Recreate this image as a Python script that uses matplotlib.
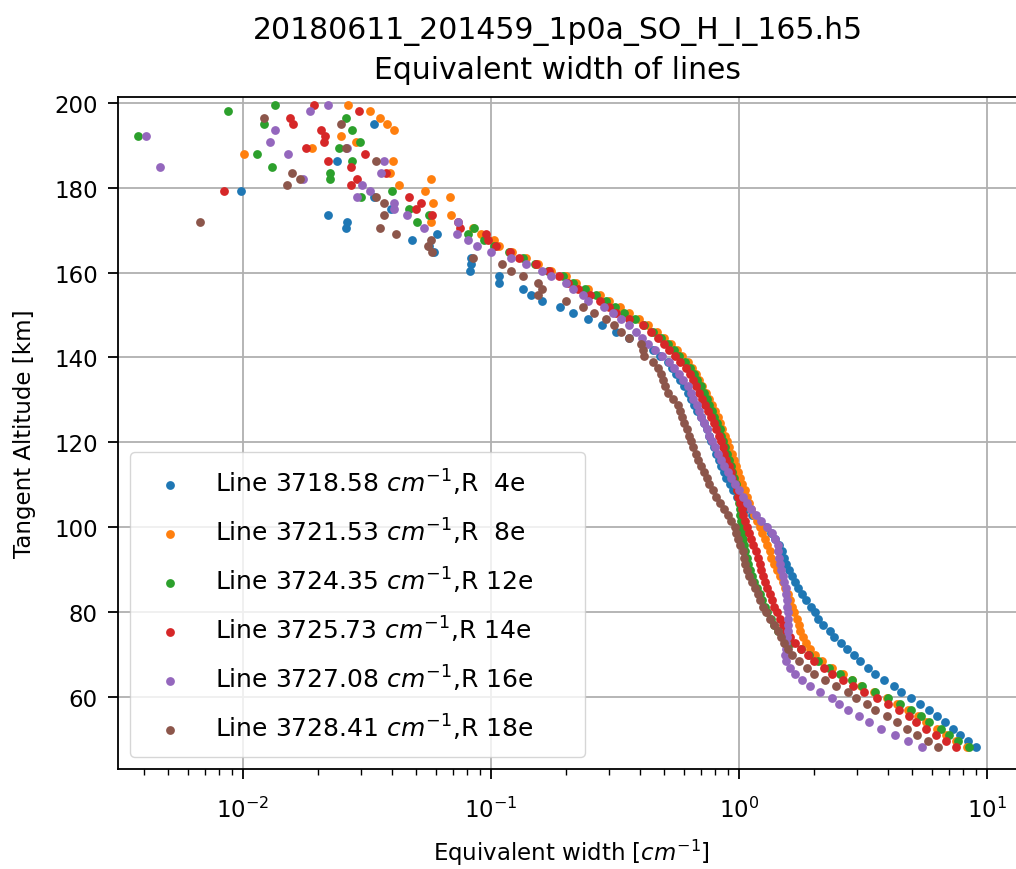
import numpy as np
import matplotlib
matplotlib.use("Agg")
import matplotlib.pyplot as plt

nan = np.nan

title_file = "20180611_201459_1p0a_SO_H_I_165.h5"
title_main = "Equivalent width of lines"
x_label = "Equivalent width [$cm^{-1}$]"
y_label = "Tangent Altitude [km]"

wavenumbers = ["3718.58", "3721.53", "3724.35", "3725.73", "3727.08", "3728.41"]
branches = ["4e", "8e", "12e", "14e", "16e", "18e"]

altitude = [
    48.2, 49.6, 51.1, 52.5, 54.0, 55.4, 56.8, 58.3, 59.7, 61.2,
    62.6, 64.0, 65.5, 66.9, 68.4, 69.8, 71.2, 72.7, 74.1, 75.6,
    77.0, 78.4, 79.9, 81.3, 82.8, 84.2, 85.6, 87.1, 88.5, 90.0,
    91.4, 92.8, 94.3, 95.7, 97.2, 98.6, 100.0, 101.5, 102.9, 104.4,
    105.8, 107.2, 108.7, 110.1, 111.6, 113.0, 114.4, 115.9, 117.3, 118.8,
    120.2, 121.6, 123.1, 124.5, 126.0, 127.4, 128.8, 130.3, 131.7, 133.2,
    134.6, 136.0, 137.5, 138.9, 140.4, 141.8, 143.2, 144.7, 146.1, 147.6,
    149.0, 150.4, 151.9, 153.3, 154.8, 156.2, 157.6, 159.1, 160.5, 162.0,
    163.4, 164.8, 166.3, 167.7, 169.2, 170.6, 172.0, 173.5, 174.9, 176.4,
    177.8, 179.2, 180.7, 182.1, 183.6, 185.0, 186.4, 187.9, 189.3, 190.8,
    192.2, 193.6, 195.1, 196.5, 198.0, 199.4,
]

ew_3718 = [
    9.0, 8.4, 7.8, 7.3, 6.75, 6.3, 5.85, 5.35, 4.95, 4.5,
    4.2, 3.85, 3.55, 3.3, 3.08, 2.9, 2.72, 2.58, 2.42, 2.32,
    2.18, 2.09, 2.02, 1.96, 1.87, 1.80, 1.73, 1.68, 1.64, 1.59,
    1.55, 1.52, 1.49, 1.45, 1.40, 1.35, 1.28, 1.20, 1.13, 1.07,
    1.02, 0.98, 0.95, 0.92, 0.89, 0.87, 0.85, 0.83, 0.81, 0.79,
    0.77, 0.755, 0.74, 0.72, 0.70, 0.68, 0.66, 0.64, 0.62, 0.60,
    0.58, 0.555, 0.535, 0.515, 0.48, 0.45, 0.41, 0.36, 0.32, 0.28,
    0.245, 0.215, 0.19, 0.16, 0.145, 0.134, 0.108, 0.108, 0.082, 0.083,
    0.083, 0.059, 0.0564, 0.0482, 0.0608, 0.026, 0.0263, 0.0221, 0.0395, nan,
    0.0336, 0.0098, nan, nan, nan, nan, 0.024, nan, nan, nan,
    nan, nan, 0.0337, nan, nan, nan,
]

ew_3721 = [
    8.3, 7.5, 6.85, 6.3, 5.7, 5.25, 4.8, 4.35, 3.95, 3.5,
    3.1, 2.85, 2.62, 2.38, 2.16, 2.02, 1.93, 1.86, 1.81, 1.77,
    1.74, 1.71, 1.67, 1.64, 1.61, 1.57, 1.53, 1.50, 1.46, 1.42,
    1.38, 1.35, 1.33, 1.30, 1.27, 1.24, 1.21, 1.18, 1.15, 1.12,
    1.10, 1.08, 1.06, 1.03, 1.01, 0.99, 0.97, 0.955, 0.935, 0.915,
    0.895, 0.875, 0.855, 0.84, 0.82, 0.80, 0.775, 0.755, 0.735, 0.71,
    0.69, 0.67, 0.645, 0.62, 0.59, 0.56, 0.53, 0.50, 0.465, 0.43,
    0.395, 0.36, 0.33, 0.30, 0.275, 0.245, 0.22, 0.20, 0.175, 0.155,
    0.138, 0.122, 0.108, 0.103, 0.091, 0.085, 0.0571, 0.069, nan, 0.0586,
    0.0685, 0.0541, 0.0426, 0.0571, 0.0393, nan, 0.0404, 0.0101, 0.019, 0.0285,
    0.0248, 0.0407, 0.038, 0.0357, 0.0325, 0.0266,
]

ew_3724 = [
    8.5, 7.65, 7.0, 6.5, 5.85, 5.4, 4.95, 4.45, 4.0, 3.55,
    3.12, 2.85, 2.55, 2.3, 2.08, 1.92, 1.78, 1.62, 1.52, 1.44,
    1.38, 1.34, 1.30, 1.27, 1.24, 1.21, 1.18, 1.15, 1.13, 1.11,
    1.09, 1.075, 1.06, 1.05, 1.04, 1.03, 1.02, 1.015, 1.01, 1.005,
    1.0, 0.995, 0.985, 0.97, 0.955, 0.94, 0.925, 0.91, 0.895, 0.88,
    0.865, 0.85, 0.835, 0.815, 0.795, 0.775, 0.755, 0.74, 0.72, 0.70,
    0.68, 0.66, 0.635, 0.605, 0.575, 0.545, 0.515, 0.485, 0.45, 0.415,
    0.38, 0.345, 0.315, 0.29, 0.265, 0.24, 0.215, 0.195, 0.17, 0.15,
    0.134, 0.118, 0.103, 0.0934, 0.081, 0.0857, 0.0504, 0.0564, 0.0468, nan,
    0.0298, 0.040, nan, 0.0225, 0.0225, 0.0131, 0.0276, 0.0114, 0.0244, 0.0296,
    0.00378, 0.0276, 0.0122, 0.026, 0.00869, 0.0135,
]

ew_3725 = [
    7.5, 6.85, 6.2, 5.7, 5.17, 4.85, 4.4, 4.0, 3.6, 3.2,
    2.88, 2.63, 2.38, 2.2, 2.0, 1.9, 1.78, 1.68, 1.6, 1.55,
    1.5, 1.46, 1.42, 1.39, 1.36, 1.33, 1.30, 1.27, 1.25, 1.23,
    1.21, 1.19, 1.17, 1.14, 1.12, 1.10, 1.08, 1.06, 1.04, 1.03,
    1.01, 0.99, 0.98, 0.96, 0.94, 0.93, 0.91, 0.89, 0.87, 0.86,
    0.85, 0.83, 0.81, 0.79, 0.77, 0.75, 0.73, 0.71, 0.69, 0.67,
    0.655, 0.635, 0.61, 0.58, 0.55, 0.52, 0.50, 0.47, 0.44, 0.41,
    0.36, 0.32, 0.30, 0.275, 0.25, 0.225, 0.205, 0.188, 0.172, 0.152,
    0.13, 0.119, 0.105, 0.097, 0.0955, 0.075, 0.0738, 0.058, 0.0498, 0.052,
    0.0468, 0.0084, 0.0272, 0.0289, 0.0376, 0.0272, 0.0221, 0.031, 0.018, 0.0213,
    0.0215, 0.0206, 0.0159, 0.0155, 0.0294, 0.0193,
]

ew_3727 = [
    5.45, 4.8, 4.25, 3.75, 3.35, 3.05, 2.75, 2.52, 2.37, 2.13,
    1.93, 1.80, 1.68, 1.60, 1.55, 1.53, 1.54, 1.55, 1.56, 1.57,
    1.57, 1.57, 1.57, 1.56, 1.56, 1.55, 1.54, 1.52, 1.50, 1.48,
    1.46, 1.45, 1.44, 1.43, 1.40, 1.36, 1.30, 1.23, 1.17, 1.12,
    1.08, 1.04, 1.0, 0.96, 0.93, 0.90, 0.87, 0.845, 0.82, 0.80,
    0.78, 0.76, 0.74, 0.72, 0.705, 0.69, 0.675, 0.655, 0.64, 0.62,
    0.595, 0.575, 0.545, 0.52, 0.49, 0.46, 0.43, 0.405, 0.385, 0.36,
    0.335, 0.31, 0.285, 0.245, 0.235, 0.215, 0.2, 0.175, 0.16, 0.138,
    0.12, 0.1, 0.088, 0.0806, 0.073, 0.0537, 0.0733, 0.0457, 0.0405, 0.0407,
    0.0289, 0.0325, 0.0303, 0.0174, 0.036, 0.00464, 0.0372, 0.0152, 0.0263, 0.0129,
    0.00406, 0.0135, nan, nan, 0.0186, 0.0221,
]

ew_3728 = [
    6.36, 5.77, 5.2, 4.75, 4.34, 3.95, 3.55, 3.28, 2.95, 2.74,
    2.45, 2.22, 2.01, 1.88, 1.75, 1.64, 1.57, 1.52, 1.48, 1.43,
    1.38, 1.33, 1.29, 1.25, 1.22, 1.19, 1.16, 1.13, 1.10, 1.08,
    1.06, 1.05, 1.04, 1.01, 0.99, 0.975, 0.96, 0.93, 0.90, 0.87,
    0.84, 0.81, 0.785, 0.76, 0.74, 0.72, 0.70, 0.685, 0.67, 0.655,
    0.64, 0.63, 0.615, 0.60, 0.59, 0.58, 0.566, 0.54, 0.515, 0.505,
    0.495, 0.485, 0.47, 0.45, 0.415, 0.41, 0.403, 0.36, 0.335, 0.314,
    0.29, 0.26, 0.235, 0.20, 0.154, 0.16, 0.154, 0.135, 0.12, 0.111,
    0.0843, 0.058, 0.0555, 0.0571, 0.0413, 0.0357, 0.00672, 0.0372, nan, 0.037,
    0.0343, nan, 0.015, 0.0169, 0.0157, nan, 0.0343, nan, 0.026, nan,
    nan, nan, 0.0248, 0.0122, nan, nan,
]

series = [ew_3718, ew_3721, ew_3724, ew_3725, ew_3727, ew_3728]

W, H = 1016, 870
ax_left, ax_right, ax_top, ax_bottom = 118, 1024, 98, 770

fig = plt.figure(figsize=(W / 100, H / 100), dpi=100)
ax = fig.add_axes([ax_left / W, 1 - ax_bottom / H,
                   (ax_right - ax_left) / W, (ax_bottom - ax_top) / H])

for wn, br, ew in zip(wavenumbers, branches, series):
    label = "Line %s $cm^{-1}$,R%s" % (wn, br.rjust(4))
    ax.scatter(ew, altitude, s=40, label=label, linewidths=0)

ax.set_xscale("log")
ax.set_xlim(10 ** -2.504, 10 ** (1 + 37 / 248))
ax.set_ylim(43.0, 201.4)
ax.set_yticks([60, 80, 100, 120, 140, 160, 180, 200])

ax.grid(True, which="major", color="#b0b0b0", linewidth=1.3)
ax.set_axisbelow(True)
for sp in ax.spines.values():
    sp.set_linewidth(1.3)
ax.tick_params(axis="both", which="major", labelsize=16.5, length=7, width=1.3)
ax.tick_params(axis="x", which="major", pad=13)
ax.tick_params(axis="y", which="major", pad=7.5)
ax.tick_params(axis="x", which="minor", length=4, width=1.0)

ax.set_xlabel(x_label, fontsize=16.5, labelpad=11)
ax.set_ylabel(y_label, fontsize=16.5, labelpad=13)
ax.set_title(title_file + "\n" + title_main, fontsize=21.5, pad=14,
             linespacing=1.4, x=(558 - ax_left) / (ax_right - ax_left))

axw, axh = ax_right - ax_left, ax_bottom - ax_top
ax.legend(loc="lower left", fontsize=18, borderaxespad=0, mode="expand",
          labelspacing=0.75, borderpad=0.6,
          bbox_to_anchor=(12 / axw, 12 / axh, 455 / axw, 320 / axh))

fig.savefig("out.png", dpi=100)
